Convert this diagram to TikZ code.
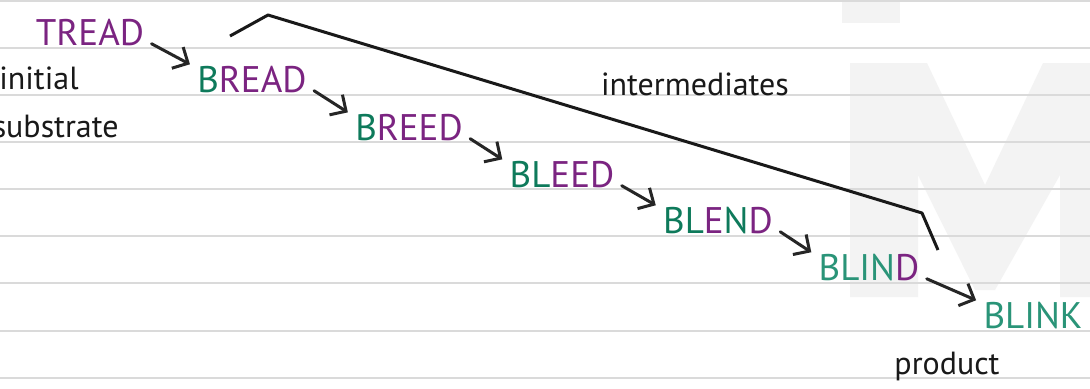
\documentclass[tikz,border=0pt]{standalone}
\usepackage{fontspec}
\setmainfont{PT Sans}
\usetikzlibrary{arrows.meta}
\definecolor{wpurple}{HTML}{7B2481}
\definecolor{wgreen}{HTML}{0E7A5B}
\definecolor{wteal}{HTML}{2A9478}
\definecolor{wrule}{HTML}{DADADA}
\definecolor{wmark}{HTML}{F3F3F3}
\newcommand{\pur}[1]{\textcolor{wpurple}{#1}}
\newcommand{\grn}[1]{\textcolor{wgreen}{#1}}
\newcommand{\tel}[1]{\textcolor{wteal}{#1}}
\tikzset{
  word/.style={inner sep=0pt, font=\fontsize{18.5}{18.5}\selectfont},
  note/.style={inner sep=0pt, font=\fontsize{16}{16}\selectfont, text=black!90},
  arr/.style={line width=1.5pt, draw=black!85, line cap=round,
    -{Straight Barb[length=6pt,width=12pt,line width=1.5pt]}},
}
\begin{document}
\begin{tikzpicture}[x=0.5pt,y=-0.5pt]
  \useasboundingbox (0,0) rectangle (1090,388);
  \fill[white] (0,0) rectangle (1090,388);
  % watermark
  \fill[wmark] (842,0) rectangle (900,23);
  \fill[wmark] (850,297) -- (850,63) -- (927,63) -- (985,185) -- (1043,63)
    -- (1120,63) -- (1120,297) -- (1060,297) -- (1060,175) -- (995,290)
    -- (975,290) -- (918,175) -- (918,297) -- cycle;
  % ruled lines
  \foreach \y in {1,48,95,142,189,236,283,331,378}
    \draw[wrule, line width=1pt] (0,\y) -- (1090,\y);

  \node[word] (tread) at (90,33) {\pur{TREAD}};
  \node[word] (bread) at (252,80) {\grn{B}\pur{READ}};
  \node[word] (breed) at (409,128) {\grn{B}\pur{REED}};
  \node[word] (bleed) at (562,175) {\grn{BL}\pur{EED}};
  \node[word] (blend) at (718,221) {\grn{BL}\pur{E}\grn{N}\pur{D}};
  \node[word] (blind) at (869,268) {\tel{BLIN}\pur{D}};
  \node[word] (blink) at (1033,316) {\tel{BLINK}};

  \foreach \a/\b in {tread/bread,bread/breed,breed/bleed,bleed/blend,blend/blind,blind/blink}
    \draw[arr] ([shift={(7,-3)}]\a.south east) -- ([shift={(-7,-2)}]\b.north west);

  \node[note, anchor=east] (initial) at (79,78) {initial};
  \node[note, anchor=east] (substrate) at (119,126) {substrate};
  \node[note] (inter) at (695,84) {intermediates};
  \node[note] (product) at (947,366) {product};

  \draw[line width=1.5pt, black!90, line join=round]
    (230,36) -- (268,15) -- (922,213) -- (938,250);
\end{tikzpicture}
\end{document}
